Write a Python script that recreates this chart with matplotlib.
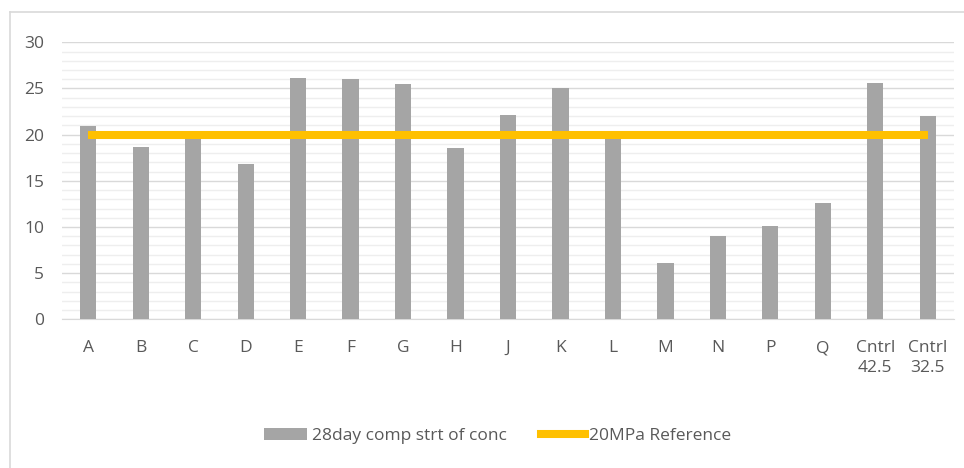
import matplotlib.pyplot as plt
import numpy as np
from matplotlib.lines import Line2D
from matplotlib.patches import Patch

categories = ["A", "B", "C", "D", "E", "F", "G", "H", "J", "K", "L",
              "M", "N", "P", "Q", "Cntrl\n42.5", "Cntrl\n32.5"]
strength = [20.9, 18.7, 19.7, 16.8, 26.1, 26.0, 25.5, 18.5, 22.1, 25.0,
            19.7, 6.1, 9.0, 10.1, 12.6, 25.6, 22.0]
reference = [20] * len(categories)

plt.rcParams["font.family"] = ["Open Sans", "DejaVu Sans"]
text_col = "#595959"

fig = plt.figure(figsize=(9.64, 4.68), dpi=100)
ax = fig.add_axes([62 / 964, 1 - 319.3 / 468, 892 / 964, 277 / 468])

x = np.arange(len(categories))

ax.bar(
    x,
    strength,
    width=0.31,
    color="#A5A5A5",
    zorder=3
)

ax.plot(
    x,
    reference,
    color="#FFC000",
    linewidth=5.8,
    solid_capstyle="butt",
    zorder=4
)

ax.set_xlim(-0.5, len(categories) - 0.5)
ax.set_ylim(0, 30)
ax.set_yticks(np.arange(0, 31, 5))
ax.set_yticks(np.arange(0, 31, 1), minor=True)
ax.set_xticks(x)
ax.set_xticklabels(categories, va="top", linespacing=1.35)

ax.grid(axis="y", which="major", color="#D9D9D9", linewidth=1.0, zorder=0)
ax.grid(axis="y", which="minor", color="#EEEEEE", linewidth=1.0, zorder=0)

for side in ["top", "right", "left"]:
    ax.spines[side].set_visible(False)
ax.spines["bottom"].set_color("#D9D9D9")

ax.tick_params(axis="both", which="both", length=0, colors=text_col, labelsize=12.5)
ax.tick_params(axis="x", pad=15)
ax.tick_params(axis="y", pad=13)

handles = [
    Patch(facecolor="#A5A5A5", edgecolor="none"),
    Line2D([0], [0], color="#FFC000", linewidth=5.8)
]
fig.legend(
    handles,
    ["28day comp strt of conc", "20MPa Reference"],
    loc="center",
    bbox_to_anchor=(0.516, 1 - 436 / 468),
    ncol=2,
    frameon=False,
    fontsize=12.5,
    labelcolor=text_col,
    handlelength=2.5,
    handletextpad=0.25,
    columnspacing=2.0
)

# chart frame (only left and top edges visible in the crop)
fig.add_artist(Line2D([10 / 964, 10 / 964], [0, 1 - 12 / 468],
                      color="#D9D9D9", linewidth=1.2))
fig.add_artist(Line2D([10 / 964, 1], [1 - 12 / 468, 1 - 12 / 468],
                      color="#D9D9D9", linewidth=1.2))

fig.savefig("out.png", dpi=100)
